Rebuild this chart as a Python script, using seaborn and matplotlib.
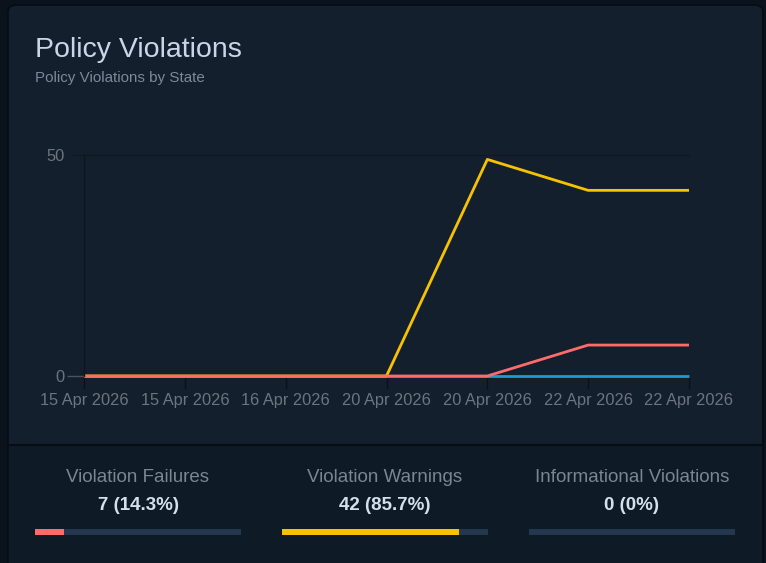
import matplotlib
matplotlib.use("Agg")
import matplotlib.pyplot as plt
import seaborn as sns
import pandas as pd
import numpy as np
from matplotlib.patches import FancyBboxPatch, Rectangle
from matplotlib.lines import Line2D

# ---- data ----
dates = ["15 Apr 2026", "15 Apr 2026", "16 Apr 2026", "20 Apr 2026",
         "20 Apr 2026", "22 Apr 2026", "22 Apr 2026"]
failures = [0, 0, 0, 0, 0, 7, 7]
warnings = [0, 0, 0, 0, 49, 42, 42]
informational = [0, 0, 0, 0, 0, 0, 0]
series_names = ["Informational Violations", "Violation Warnings", "Violation Failures"]
series_colors = ["#1a9ad8", "#f7c300", "#ff6b6b"]
y_ticks = [0, 50]

stat_labels = ["Violation Failures", "Violation Warnings", "Informational Violations"]
stat_values = [7, 42, 0]
stat_colors = ["#ff6b6b", "#f7c300", "#1a9ad8"]

W, H = 766, 563
sns.set_theme(style="dark")
plt.rcParams["font.family"] = ["Liberation Sans", "DejaVu Sans"]

fig = plt.figure(figsize=(W / 100, H / 100), dpi=100)
fig.patch.set_facecolor("#0a121b")

def fx(px):
    return px / W

def fy(py):
    return 1 - py / H

# card
card = FancyBboxPatch((fx(8), fy(575)), fx(755), (575 - 5) / H,
                      boxstyle="round,pad=0,rounding_size=0.012",
                      transform=fig.transFigure, facecolor="#141f2e",
                      edgecolor="#060c13", linewidth=1.2, zorder=-3)
fig.patches.append(card)
bottom = Rectangle((fx(8.5), 0), fx(754), fy(445), transform=fig.transFigure,
                   facecolor="#0f1a27", edgecolor="none", zorder=-2)
fig.patches.append(bottom)
fig.add_artist(Line2D([fx(8), fx(763)], [fy(445), fy(445)], transform=fig.transFigure,
                      color="#070d14", linewidth=1.5, zorder=-1))
fig.add_artist(Line2D([fx(763), fx(763)], [0, fy(12)], transform=fig.transFigure,
                      color="#060c13", linewidth=1.2, zorder=-1))

# title
fig.text(fx(35), fy(50), "Policy Violations", fontsize=20.5, color="#c9d6e6",
         va="center", ha="left")
fig.text(fx(35), fy(78), "Policy Violations by State", fontsize=10.9,
         color="#7d8998", va="center", ha="left")

# main chart
ax = fig.add_axes([fx(84), fy(376), fx(689 - 84), (376 - 155) / H])
ax.set_facecolor("none")
x = np.arange(len(dates))
df = pd.DataFrame({
    "x": np.tile(x, 3),
    "value": informational + warnings + failures,
    "series": np.repeat(series_names, len(dates)),
})
sns.lineplot(data=df, x="x", y="value", hue="series", hue_order=series_names,
             palette=series_colors, linewidth=2.0, ax=ax, legend=False,
             sort=False)
for ln in ax.lines:
    ln.set_solid_capstyle("butt")
    ln.set_solid_joinstyle("round")
    ln.set_clip_on(False)

ax.set_xlim(0, len(dates) - 1)
ax.set_ylim(0, 50)
ax.set_xticks(x)
ax.set_xticklabels(dates)
ax.set_yticks(y_ticks)
ax.yaxis.remove_overlapping_locs = False
ax.set_yticks([y_ticks[0]], minor=True)
ax.set_xlabel("")
ax.set_ylabel("")
ax.grid(False)
# horizontal gridline at the top value, extending slightly left of the axis
ax.plot([-0.018, 1], [y_ticks[-1], y_ticks[-1]], transform=ax.get_yaxis_transform(),
        color="#0f1822", linewidth=1, zorder=0, clip_on=False)
for s in ["top", "right", "bottom"]:
    ax.spines[s].set_visible(False)
ax.spines["left"].set_color("#0c141d")
ax.spines["left"].set_linewidth(1)
ax.tick_params(axis="x", which="major", color="#0a1119", labelcolor="#6c7480",
               labelsize=11.8, length=9, width=1, pad=3, bottom=True)
ax.tick_params(axis="y", which="major", labelcolor="#6c7480",
               labelsize=11.8, length=0, pad=14, left=False)
ax.tick_params(axis="y", which="minor", color="#4a535e", length=12, width=1,
               left=True, labelleft=False)

# stats
total = sum(stat_values)
centers = [138, 385, 632]
for lab, val, col, cx in zip(stat_labels, stat_values, stat_colors, centers):
    pct = val / total * 100 if total else 0
    pct_txt = f"{pct:.1f}%" if val else "0%"
    fig.text(fx(cx), fy(477), lab, fontsize=13.5, color="#7b8594", ha="center",
             va="center")
    fig.text(fx(cx), fy(505), f"{val} ({pct_txt})", fontsize=13.5, color="#d6e0ec",
             ha="center", va="center", fontweight="bold")
    bax = fig.add_axes([fx(cx - 103), fy(535), fx(206), 6 / H])
    bax.set_facecolor("none")
    bax.barh([0], [1], height=1, color="#23374e", edgecolor="none")
    bax.barh([0], [val / total if total else 0], height=1, color=col, edgecolor="none")
    bax.set_xlim(0, 1)
    bax.set_ylim(-0.5, 0.5)
    bax.axis("off")

fig.savefig("out.png", dpi=100, facecolor=fig.get_facecolor())
